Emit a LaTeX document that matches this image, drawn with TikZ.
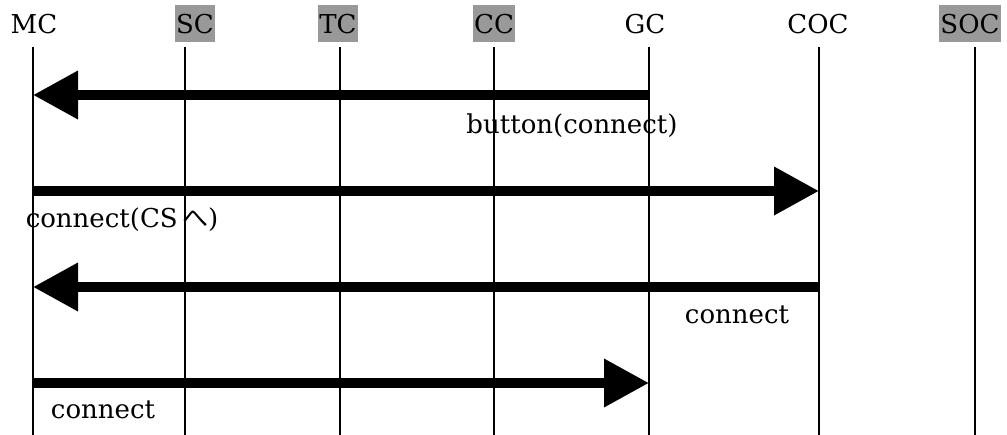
\documentclass[tikz,border=0pt]{standalone}
\usepackage{fontspec}
\setmainfont{DejaVu Serif}
\newfontfamily\jp{Noto Sans CJK JP}
\usetikzlibrary{arrows.meta}
\begin{document}
\begin{tikzpicture}[x=1pt,y=-1pt,
  every node/.style={font=\fontsize{26}{30}\selectfont},
  head/.style={inner xsep=1pt,inner ysep=9pt,text height=19pt,text depth=0pt},
  shaded/.style={head,fill=black!40},
  life/.style={line width=1.8pt},
  msg/.style={line width=10pt,-{Triangle[length=45pt,width=46pt]}},
  lab/.style={inner sep=0pt}]
\useasboundingbox (0,0) rectangle (1007,435);
% headers
\node[head]   (MC)  at (34,24)  {MC};
\node[shaded] (SC)  at (195,24) {SC};
\node[shaded] (TC)  at (338,24) {TC};
\node[shaded] (CC)  at (494,24) {CC};
\node[head]   (GC)  at (645,24) {GC};
\node[head]   (COC) at (818,24) {COC};
\node[shaded] (SOC) at (970,24) {SOC};
% lifeline ends
\coordinate (mct) at (33,47);  \coordinate (mcb) at (33,435);
\coordinate (sct) at (185,47); \coordinate (scb) at (185,435);
\coordinate (tct) at (340,47); \coordinate (tcb) at (340,435);
\coordinate (cct) at (494,47); \coordinate (ccb) at (494,435);
\coordinate (gct) at (649,47); \coordinate (gcb) at (649,435);
\coordinate (coct) at (819,47); \coordinate (cocb) at (819,435);
\coordinate (soct) at (975,47); \coordinate (socb) at (975,435);
\foreach \a/\b in {mct/mcb,sct/scb,tct/tcb,cct/ccb,gct/gcb,coct/cocb,soct/socb}
  \draw[life] (\a) -- (\b);
% message anchors
\coordinate (m1a) at (649,95);  \coordinate (m1b) at (33,95);
\coordinate (m2a) at (33,191);  \coordinate (m2b) at (819,191);
\coordinate (m3a) at (819,287); \coordinate (m3b) at (33,287);
\coordinate (m4a) at (33,383);  \coordinate (m4b) at (649,383);
\draw[msg] (m1a) -- (m1b);
\draw[msg] (m2a) -- (m2b);
\draw[msg] (m3a) -- (m3b);
\draw[msg] (m4a) -- (m4b);
% labels
\node[lab] (l1) at (572,126) {button(connect)};
\node[lab] (l2) at (122,220) {connect(CS\,{\jp へ})};
\node[lab] (l3) at (737,315) {connect};
\node[lab] (l4) at (103,410) {connect};
\end{tikzpicture}
\end{document}
